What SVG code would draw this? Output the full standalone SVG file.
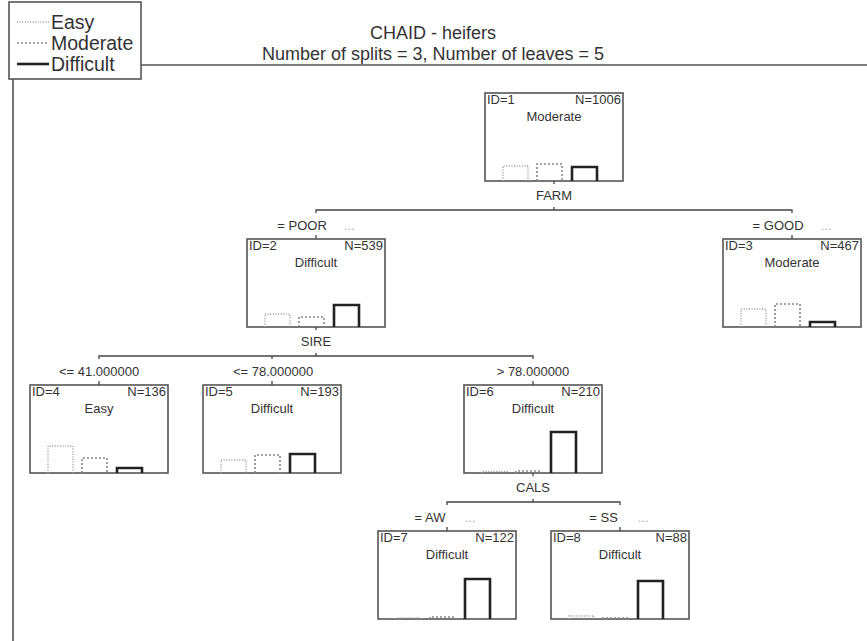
<svg xmlns="http://www.w3.org/2000/svg" width="867" height="641" viewBox="0 0 867 641">
<style>
  text { font-family: "Liberation Sans", Arial, sans-serif; fill: #333; }
  .t { font-size: 18px; }
  .lg { font-size: 19.5px; }
  .n { font-size: 13px; }
  .s { font-size: 13px; }
  .dots { fill: #aaa; }
  .box { fill: #fff; stroke: #555; stroke-width: 1.6; }
  .frame { fill: none; stroke: #555; stroke-width: 1.6; }
  .easy { fill: none; stroke: #999; stroke-width: 1.4; stroke-dasharray: 1 1.6; }
  .mod { fill: none; stroke: #888; stroke-width: 1.6; stroke-dasharray: 2 2; }
  .diff { fill: none; stroke: #222; stroke-width: 2.6; }
  .conn { fill: none; stroke: #444; stroke-width: 1.3; }
</style>
<rect x="0" y="0" width="867" height="641" fill="#fff"/>

<g id="frame">
  <path class="frame" d="M141 65 H867 M13 79 V641"/>
</g>

<g id="legend">
  <rect class="box" x="9" y="2" width="132" height="77"/>
  <line class="easy" x1="17" y1="22" x2="49" y2="22"/>
  <line class="mod" x1="17" y1="43" x2="49" y2="43"/>
  <line class="diff" x1="17" y1="64" x2="49" y2="64"/>
  <text class="lg" x="51" y="29">Easy</text>
  <text class="lg" x="51" y="50">Moderate</text>
  <text class="lg" x="51" y="71">Difficult</text>
</g>

<g id="title">
  <text class="t" x="433" y="39" text-anchor="middle">CHAID - heifers</text>
  <text class="t" x="433" y="60" text-anchor="middle">Number of splits = 3, Number of leaves = 5</text>
</g>

<g id="connectors">
  <!-- FARM split -->
  <path class="conn" d="M554 181 V184 M316 213 V210 H792 V213 M554 210 V207 M316 235 V239 M792 235 V239"/>
  <text class="s" x="554" y="200" text-anchor="middle">FARM</text>
  <text class="s" x="316" y="230" text-anchor="middle">= POOR<tspan class="dots" dx="17">...</tspan></text>
  <text class="s" x="792" y="230" text-anchor="middle">= GOOD<tspan class="dots" dx="17">...</tspan></text>
  <!-- SIRE split -->
  <path class="conn" d="M316 327 V330 M99 359 V356 H533 V359 M272 356 V359 M316 356 V353 M99 381 V385 M272 381 V385 M533 381 V385"/>
  <text class="s" x="316" y="346" text-anchor="middle">SIRE</text>
  <text class="s" x="99" y="376" text-anchor="middle">&lt;= 41.000000</text>
  <text class="s" x="273" y="376" text-anchor="middle">&lt;= 78.000000</text>
  <text class="s" x="533" y="376" text-anchor="middle">&gt; 78.000000</text>
  <!-- CALS split -->
  <path class="conn" d="M533 473 V476 M447 505 V502 H620 V505 M533 502 V499 M447 527 V531 M620 527 V531"/>
  <text class="s" x="533" y="492" text-anchor="middle">CALS</text>
  <text class="s" x="445" y="522" text-anchor="middle">= AW<tspan class="dots" dx="20">...</tspan></text>
  <text class="s" x="619" y="522" text-anchor="middle">= SS<tspan class="dots" dx="20">...</tspan></text>
</g>

<g id="node1" transform="translate(485,93)">
  <rect class="box" width="138" height="88"/>
  <text class="n" x="2" y="11">ID=1</text>
  <text class="n" x="136" y="11" text-anchor="end">N=1006</text>
  <text class="n" x="69" y="28" text-anchor="middle">Moderate</text>
  <path class="easy" d="M18 88 V73 H43 V88"/>
  <path class="mod" d="M52 88 V71 H77 V88"/>
  <path class="diff" d="M87 88 V74 H112 V88"/>
</g>

<g id="node2" transform="translate(247,239)">
  <rect class="box" width="138" height="88"/>
  <text class="n" x="2" y="11">ID=2</text>
  <text class="n" x="136" y="11" text-anchor="end">N=539</text>
  <text class="n" x="69" y="28" text-anchor="middle">Difficult</text>
  <path class="easy" d="M18 88 V75 H43 V88"/>
  <path class="mod" d="M52 88 V78 H77 V88"/>
  <path class="diff" d="M87 88 V66 H112 V88"/>
</g>

<g id="node3" transform="translate(723,239)">
  <rect class="box" width="138" height="88"/>
  <text class="n" x="2" y="11">ID=3</text>
  <text class="n" x="136" y="11" text-anchor="end">N=467</text>
  <text class="n" x="69" y="28" text-anchor="middle">Moderate</text>
  <path class="easy" d="M18 88 V70 H43 V88"/>
  <path class="mod" d="M52 88 V65 H77 V88"/>
  <path class="diff" d="M87 88 V83 H112 V88"/>
</g>

<g id="node4" transform="translate(30,385)">
  <rect class="box" width="138" height="88"/>
  <text class="n" x="2" y="11">ID=4</text>
  <text class="n" x="136" y="11" text-anchor="end">N=136</text>
  <text class="n" x="69" y="28" text-anchor="middle">Easy</text>
  <path class="easy" d="M18 88 V61 H43 V88"/>
  <path class="mod" d="M52 88 V73 H77 V88"/>
  <path class="diff" d="M87 88 V83 H112 V88"/>
</g>

<g id="node5" transform="translate(203,385)">
  <rect class="box" width="138" height="88"/>
  <text class="n" x="2" y="11">ID=5</text>
  <text class="n" x="136" y="11" text-anchor="end">N=193</text>
  <text class="n" x="69" y="28" text-anchor="middle">Difficult</text>
  <path class="easy" d="M18 88 V75 H43 V88"/>
  <path class="mod" d="M52 88 V70 H77 V88"/>
  <path class="diff" d="M87 88 V69 H112 V88"/>
</g>

<g id="node6" transform="translate(464,385)">
  <rect class="box" width="138" height="88"/>
  <text class="n" x="2" y="11">ID=6</text>
  <text class="n" x="136" y="11" text-anchor="end">N=210</text>
  <text class="n" x="69" y="28" text-anchor="middle">Difficult</text>
  <path class="easy" d="M18 88 V86.5 H43 V88"/>
  <path class="mod" d="M52 88 V86 H77 V88"/>
  <path class="diff" d="M87 88 V47 H112 V88"/>
</g>

<g id="node7" transform="translate(378,531)">
  <rect class="box" width="138" height="88"/>
  <text class="n" x="2" y="11">ID=7</text>
  <text class="n" x="136" y="11" text-anchor="end">N=122</text>
  <text class="n" x="69" y="28" text-anchor="middle">Difficult</text>
  <path class="easy" d="M18 88 V87 H43 V88"/>
  <path class="mod" d="M52 88 V86 H77 V88"/>
  <path class="diff" d="M87 88 V48 H112 V88"/>
</g>

<g id="node8" transform="translate(551,531)">
  <rect class="box" width="138" height="88"/>
  <text class="n" x="2" y="11">ID=8</text>
  <text class="n" x="136" y="11" text-anchor="end">N=88</text>
  <text class="n" x="69" y="28" text-anchor="middle">Difficult</text>
  <path class="easy" d="M18 88 V85 H43 V88"/>
  <path class="mod" d="M52 88 V87 H77 V88"/>
  <path class="diff" d="M87 88 V50 H112 V88"/>
</g>
</svg>
